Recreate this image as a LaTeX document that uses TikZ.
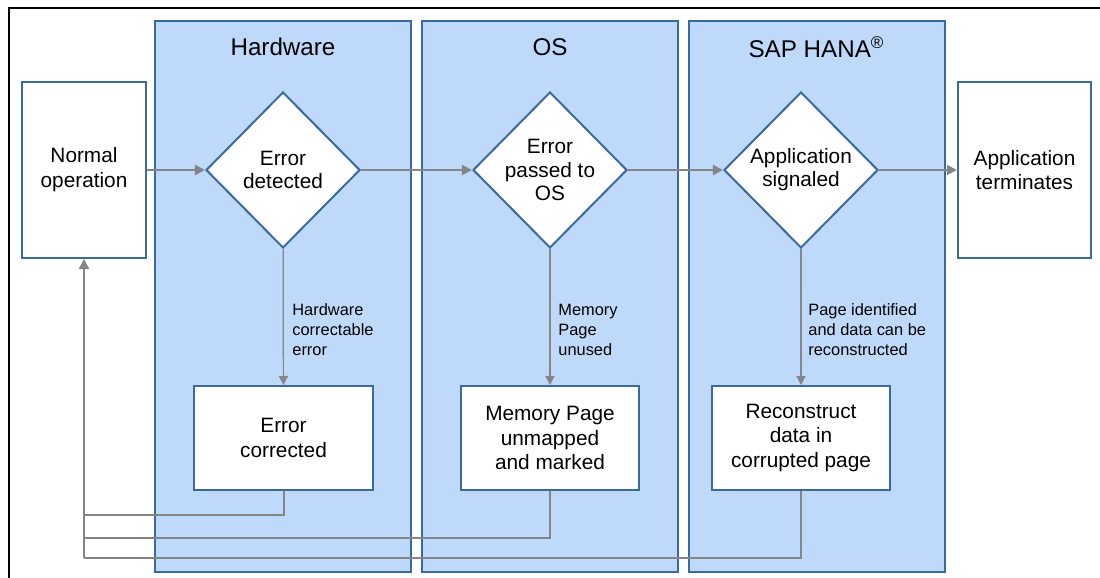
\documentclass[tikz,border=0pt]{standalone}
\usepackage{fontspec}
\setmainfont{Liberation Sans}
\usetikzlibrary{shapes.geometric,arrows.meta}
\definecolor{lanefill}{HTML}{BFD9FB}
\definecolor{laneline}{HTML}{3A6A9E}
\definecolor{flowgray}{HTML}{858585}

\begin{document}
\begin{tikzpicture}[x=0.5pt,y=-0.5pt,
  lane/.style={draw=laneline,fill=lanefill,line width=1pt,minimum width=128pt,minimum height=275.5pt,inner sep=0pt},
  title/.style={font=\fontsize{12.1}{14}\selectfont},
  box/.style={draw=laneline,fill=white,line width=1pt,align=center,inner sep=0pt,font=\fontsize{10.4}{12.4}\selectfont},
  decision/.style={diamond,draw=laneline,fill=white,line width=1pt,align=center,inner sep=0pt,minimum width=77pt,minimum height=78pt,font=\fontsize{10.4}{11.6}\selectfont},
  lbl/.style={anchor=west,align=left,inner sep=0pt,font=\fontsize{8.2}{10}\selectfont},
  main/.style={draw=flowgray,line width=1pt,-{Triangle[width=5pt,length=5pt]}},
  thin/.style={draw=flowgray,line width=0.6pt,-{Triangle[width=4.5pt,length=4.5pt]}},
  back/.style={draw=flowgray,line width=1pt}]

\useasboundingbox (0,0) rectangle (1100,578);
\draw[line width=0.6pt] (9,578) -- (9,8) -- (1100,8);

% Lanes
\node[lane] (hwlane) at (283,296.5) {};
\node[lane] (oslane) at (550,296.5) {};
\node[lane] (saplane) at (816.5,296.5) {};
\node[title] (hwtitle) at (283,47) {Hardware};
\node[title] (ostitle) at (550,47) {OS};
\node[title] (saptitle) at (816.5,47) {SAP HANA\textsuperscript{®}};

% Nodes
\node[box,minimum width=62pt,minimum height=88pt] (normal) at (84,170) {Normal\\operation};
\node[box,minimum width=66.5pt,minimum height=88pt] (terminate) at (1024.5,170) {Application\\terminates};
\node[decision] (detect) at (283,170) {Error\\detected};
\node[decision] (passed) at (550,170) {Error\\passed to\\OS};
\node[decision] (signal) at (801,170) {Application\\signaled};
\node[box,minimum width=89.5pt,minimum height=52pt] (corrected) at (283.5,438) {Error\\corrected};
\node[box,minimum width=89pt,minimum height=52pt] (unmapped) at (550,438) {Memory Page\\unmapped\\and marked};
\node[box,minimum width=89pt,minimum height=52pt] (rebuild) at (801,438) {Reconstruct\\data in\\corrupted page};

% Edge labels
\node[lbl] (hwlbl) at (292,330) {Hardware\\correctable\\error};
\node[lbl] (oslbl) at (558,330) {Memory\\Page\\unused};
\node[lbl] (saplbl) at (808,330) {Page identified\\and data can be\\reconstructed};

% Return points
\coordinate (ret1) at (84,515);
\coordinate (ret2) at (84,538);
\coordinate (ret3) at (84,558);

% Edges
\draw[main] (normal) -- (detect);
\draw[main] (detect) -- (passed);
\draw[main] (passed) -- (signal);
\draw[main] (signal) -- (terminate);
\draw[thin] (detect) -- (corrected);
\draw[thin] (passed) -- (unmapped);
\draw[thin] (signal) -- (rebuild);
\draw[back] (corrected) |- (ret1);
\draw[back] (unmapped) |- (ret2);
\draw[back] (rebuild) |- (ret3);
\draw[main] (ret3) -- (normal);

\end{tikzpicture}
\end{document}
